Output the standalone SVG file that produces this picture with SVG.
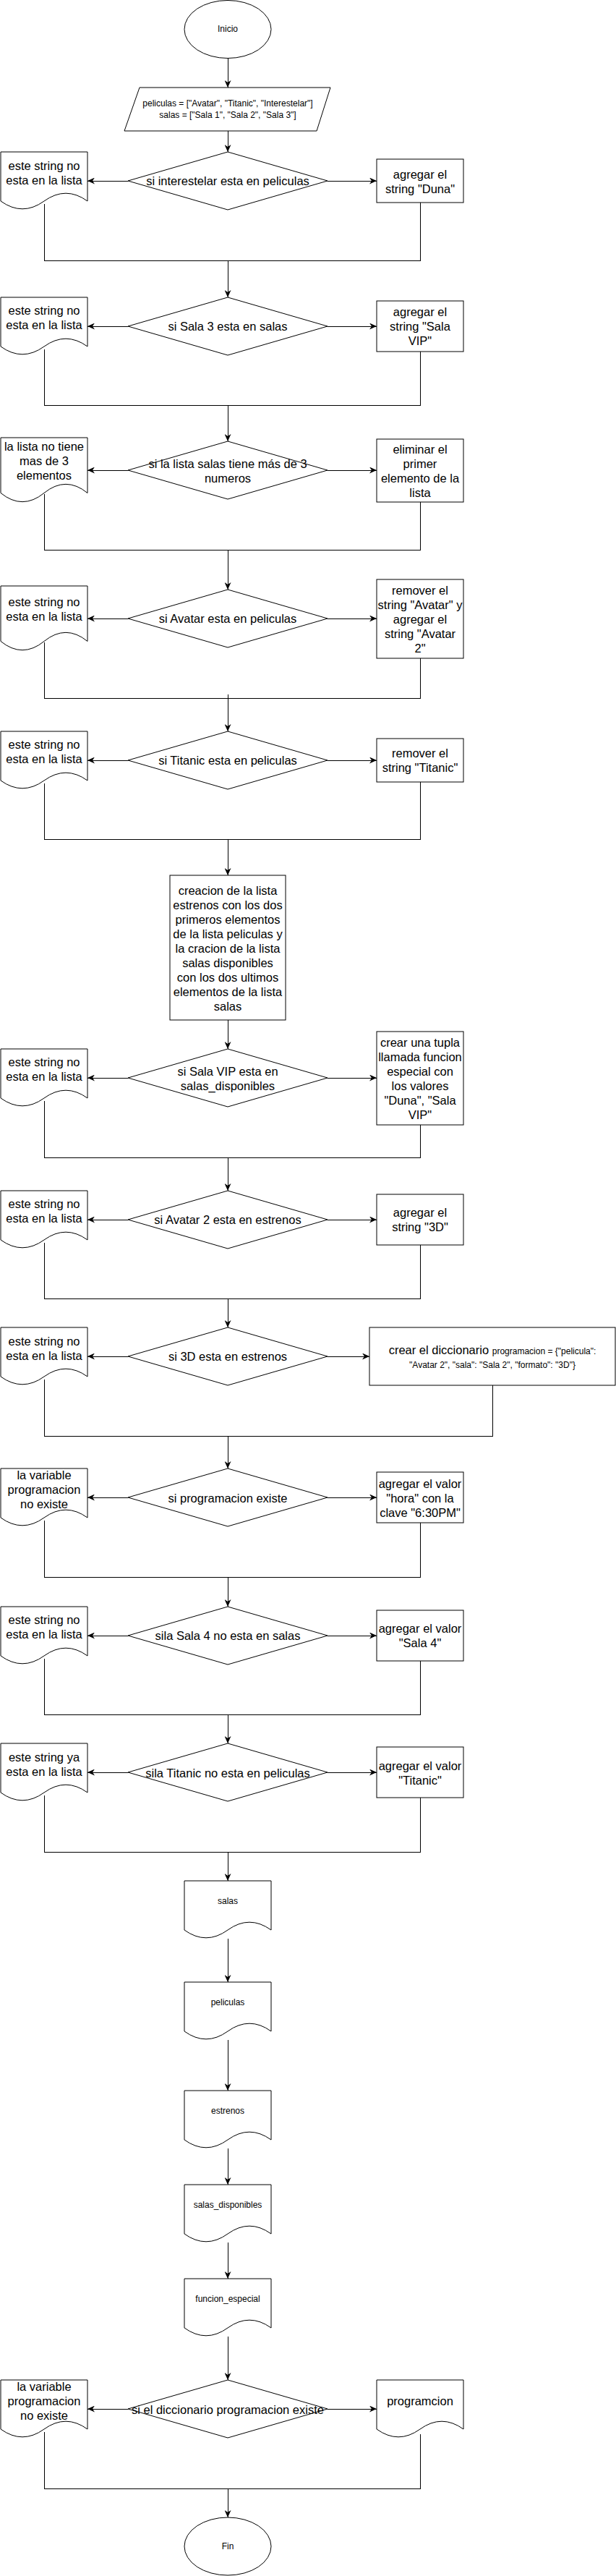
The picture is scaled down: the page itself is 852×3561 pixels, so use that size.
<svg xmlns="http://www.w3.org/2000/svg" width="852" height="3561" viewBox="0 0 852 3561">
<style>
.s{fill:#fff;stroke:#000;stroke-width:1}
.c{fill:none;stroke:#000;stroke-width:1;shape-rendering:crispEdges}
.a{marker-end:url(#arr)}
text{font-family:"Liberation Sans",Arial,Helvetica,sans-serif;font-size:16.5px;text-anchor:middle;fill:#000}
.sm{font-size:12px}
</style>
<defs>
<marker id="arr" markerUnits="userSpaceOnUse" viewBox="0 0 10 9" refX="10" refY="4.5" markerWidth="10" markerHeight="9" orient="auto">
<path d="M0 0 L10 4.5 L0 9 L3 4.5 Z" fill="#000"/>
</marker>
</defs>
<rect width="852" height="3561" fill="#fff"/>
<g id="connectors">
<path class="c a" d="M315 80 V121"/>
<path class="c a" d="M315 181 V210"/>
<path class="c a" d="M177 250 H121"/>
<path class="c a" d="M453 250 H521"/>
<path class="c a" d="M61 282 V360 H315 V411"/>
<path class="c" d="M581 280 V360 H315"/>
<path class="c a" d="M177 451 H121"/>
<path class="c a" d="M453 451 H521"/>
<path class="c a" d="M61 483 V560 H315 V610"/>
<path class="c" d="M581 486 V560 H315"/>
<path class="c a" d="M177 650 H121"/>
<path class="c a" d="M453 650 H521"/>
<path class="c a" d="M61 683 V760 H315 V815"/>
<path class="c" d="M581 694 V760 H315"/>
<path class="c a" d="M177 855 H121"/>
<path class="c a" d="M453 855 H521"/>
<path class="c a" d="M61 888 V965 H315 V1011"/>
<path class="c" d="M581 910 V965 H315 V960"/>
<path class="c a" d="M177 1051 H121"/>
<path class="c a" d="M453 1051 H521"/>
<path class="c a" d="M61 1083 V1160 H315 V1210"/>
<path class="c" d="M581 1081 V1160 H315"/>
<path class="c a" d="M315 1410 V1450"/>
<path class="c a" d="M177 1490 H121"/>
<path class="c a" d="M453 1490 H521"/>
<path class="c a" d="M61 1522 V1600 H315 V1646"/>
<path class="c" d="M581 1555 V1600 H315"/>
<path class="c a" d="M177 1686 H121"/>
<path class="c a" d="M453 1686 H521"/>
<path class="c a" d="M61 1718 V1795 H315 V1835"/>
<path class="c" d="M581 1721 V1795 H315"/>
<path class="c a" d="M177 1875 H121"/>
<path class="c a" d="M453 1875 H511"/>
<path class="c a" d="M61 1907 V1985 H315 V2030"/>
<path class="c" d="M681 1915 V1985 H315"/>
<path class="c a" d="M177 2070 H121"/>
<path class="c a" d="M453 2070 H521"/>
<path class="c a" d="M61 2102 V2180 H315 V2221"/>
<path class="c" d="M581 2105 V2180 H315"/>
<path class="c a" d="M177 2261 H121"/>
<path class="c a" d="M453 2261 H521"/>
<path class="c a" d="M61 2293 V2370 H315 V2410"/>
<path class="c" d="M581 2296 V2370 H315"/>
<path class="c a" d="M177 2450 H121"/>
<path class="c a" d="M453 2450 H521"/>
<path class="c a" d="M61 2482 V2560 H315 V2600"/>
<path class="c" d="M581 2485 V2560 H315"/>
<path class="c a" d="M315 2680 V2740"/>
<path class="c a" d="M315 2820 V2890"/>
<path class="c a" d="M315 2970 V3020"/>
<path class="c a" d="M315 3100 V3150"/>
<path class="c a" d="M315 3230 V3290"/>
<path class="c a" d="M177 3330 H121"/>
<path class="c a" d="M453 3330 H521"/>
<path class="c a" d="M61 3362 V3440 H315 V3480"/>
<path class="c" d="M581 3365 V3440 H315"/>
</g>

<g id="inicio"><ellipse class="s" cx="315" cy="40.5" rx="60" ry="40"/><text class="sm" x="315" y="44">Inicio</text></g>
<g id="datos"><polygon class="s" points="193,121 457,121 438,181 172,181"/>
<text class="sm" x="315" y="147">peliculas = ["Avatar", "Titanic", "Interestelar"]</text>
<text class="sm" x="315" y="163">salas = ["Sala 1", "Sala 2", "Sala 3"]</text></g>

<g id="dec1"><polygon class="s" points="315,210 453,250 315,290 177,250"/><text x="315" y="256">si interestelar esta en peliculas</text></g>
<g id="no1"><path class="s" d="M1 210 L121 210 L121 278 Q91 256.4 61 278 Q31 299.6 1 278 Z"/><text x="61" y="235">este string no</text><text x="61" y="255">esta en la lista</text></g>
<g id="si1"><rect class="s" x="521" y="220" width="120" height="60"/><text x="581" y="247">agregar el</text><text x="581" y="267">string "Duna"</text></g>

<g id="dec2"><polygon class="s" points="315,411 453,451 315,491 177,451"/><text x="315" y="457">si Sala 3 esta en salas</text></g>
<g id="no2"><path class="s" d="M1 411 L121 411 L121 479 Q91 457.4 61 479 Q31 500.6 1 479 Z"/><text x="61" y="435">este string no</text><text x="61" y="455">esta en la lista</text></g>
<g id="si2"><rect class="s" x="521" y="416" width="120" height="70"/><text x="581" y="437">agregar el</text><text x="581" y="457">string "Sala</text><text x="581" y="477">VIP"</text></g>

<g id="dec3"><polygon class="s" points="315,610 453,650 315,690 177,650"/><text x="315" y="647">si la lista salas tiene más de 3</text><text x="315" y="667">numeros</text></g>
<g id="no3"><path class="s" d="M1 605 L121 605 L121 681.5 Q91 657.2 61 681.5 Q31 705.8 1 681.5 Z"/><text x="61" y="623">la lista no tiene</text><text x="61" y="643">mas de 3</text><text x="61" y="663">elementos</text></g>
<g id="si3"><rect class="s" x="521" y="607" width="120" height="87"/><text x="581" y="627">eliminar el</text><text x="581" y="647">primer</text><text x="581" y="667">elemento de la</text><text x="581" y="687">lista</text></g>

<g id="dec4"><polygon class="s" points="315,815 453,855 315,895 177,855"/><text x="315" y="861">si Avatar esta en peliculas</text></g>
<g id="no4"><path class="s" d="M1 810 L121 810 L121 886.5 Q91 862.2 61 886.5 Q31 910.8 1 886.5 Z"/><text x="61" y="838">este string no</text><text x="61" y="858">esta en la lista</text></g>
<g id="si4"><rect class="s" x="521" y="801" width="120" height="109"/><text x="581" y="822">remover el</text><text x="581" y="842">string "Avatar" y</text><text x="581" y="862">agregar el</text><text x="581" y="882">string "Avatar</text><text x="581" y="902">2"</text></g>

<g id="dec5"><polygon class="s" points="315,1011 453,1051 315,1091 177,1051"/><text x="315" y="1057">si Titanic esta en peliculas</text></g>
<g id="no5"><path class="s" d="M1 1011 L121 1011 L121 1079 Q91 1057.4 61 1079 Q31 1100.6 1 1079 Z"/><text x="61" y="1035">este string no</text><text x="61" y="1055">esta en la lista</text></g>
<g id="si5"><rect class="s" x="521" y="1021" width="120" height="60"/><text x="581" y="1047">remover el</text><text x="581" y="1067">string "Titanic"</text></g>

<g id="creacion"><rect class="s" x="235" y="1210" width="160" height="200"/>
<text x="315" y="1237">creacion de la lista</text>
<text x="315" y="1257">estrenos con los dos</text>
<text x="315" y="1277">primeros elementos</text>
<text x="315" y="1297">de la lista peliculas y</text>
<text x="315" y="1317">la cracion de la lista</text>
<text x="315" y="1337">salas disponibles</text>
<text x="315" y="1357">con los dos ultimos</text>
<text x="315" y="1377">elementos de la lista</text>
<text x="315" y="1397">salas</text></g>

<g id="dec6"><polygon class="s" points="315,1450 453,1490 315,1530 177,1490"/><text x="315" y="1487">si Sala VIP esta en</text><text x="315" y="1507">salas_disponibles</text></g>
<g id="no6"><path class="s" d="M1 1450 L121 1450 L121 1518 Q91 1496.4 61 1518 Q31 1539.6 1 1518 Z"/><text x="61" y="1474">este string no</text><text x="61" y="1494">esta en la lista</text></g>
<g id="si6"><rect class="s" x="521" y="1426" width="120" height="129"/><text x="581" y="1447">crear una tupla</text><text x="581" y="1467">llamada funcion</text><text x="581" y="1487">especial con</text><text x="581" y="1507">los valores</text><text x="581" y="1527">"Duna", "Sala</text><text x="581" y="1547">VIP"</text></g>

<g id="dec7"><polygon class="s" points="315,1646 453,1686 315,1726 177,1686"/><text x="315" y="1692">si Avatar 2 esta en estrenos</text></g>
<g id="no7"><path class="s" d="M1 1646 L121 1646 L121 1714 Q91 1692.4 61 1714 Q31 1735.6 1 1714 Z"/><text x="61" y="1670">este string no</text><text x="61" y="1690">esta en la lista</text></g>
<g id="si7"><rect class="s" x="521" y="1651" width="120" height="70"/><text x="581" y="1682">agregar el</text><text x="581" y="1702">string "3D"</text></g>

<g id="dec8"><polygon class="s" points="315,1835 453,1875 315,1915 177,1875"/><text x="315" y="1881">si 3D esta en estrenos</text></g>
<g id="no8"><path class="s" d="M1 1835 L121 1835 L121 1903 Q91 1881.4 61 1903 Q31 1924.6 1 1903 Z"/><text x="61" y="1860">este string no</text><text x="61" y="1880">esta en la lista</text></g>
<g id="si8"><rect class="s" x="511" y="1835" width="340" height="80"/><text x="681" y="1872">crear el diccionario <tspan class="sm">programacion = {"pelicula":</tspan></text><text class="sm" x="681" y="1891">"Avatar 2", "sala": "Sala 2", "formato": "3D"}</text></g>

<g id="dec9"><polygon class="s" points="315,2030 453,2070 315,2110 177,2070"/><text x="315" y="2077">si programacion existe</text></g>
<g id="no9"><path class="s" d="M1 2030 L121 2030 L121 2098 Q91 2076.4 61 2098 Q31 2119.6 1 2098 Z"/><text x="61" y="2045">la variable</text><text x="61" y="2065">programacion</text><text x="61" y="2085">no existe</text></g>
<g id="si9"><rect class="s" x="521" y="2035" width="120" height="70"/><text x="581" y="2057">agregar el valor</text><text x="581" y="2077">"hora" con la</text><text x="581" y="2097">clave "6:30PM"</text></g>

<g id="dec10"><polygon class="s" points="315,2221 453,2261 315,2301 177,2261"/><text x="315" y="2267">sila Sala 4 no esta en salas</text></g>
<g id="no10"><path class="s" d="M1 2221 L121 2221 L121 2289 Q91 2267.4 61 2289 Q31 2310.6 1 2289 Z"/><text x="61" y="2245">este string no</text><text x="61" y="2265">esta en la lista</text></g>
<g id="si10"><rect class="s" x="521" y="2226" width="120" height="70"/><text x="581" y="2257">agregar el valor</text><text x="581" y="2277">"Sala 4"</text></g>

<g id="dec11"><polygon class="s" points="315,2410 453,2450 315,2490 177,2450"/><text x="315" y="2457">sila Titanic no esta en peliculas</text></g>
<g id="no11"><path class="s" d="M1 2410 L121 2410 L121 2478 Q91 2456.4 61 2478 Q31 2499.6 1 2478 Z"/><text x="61" y="2435">este string ya</text><text x="61" y="2455">esta en la lista</text></g>
<g id="si11"><rect class="s" x="521" y="2415" width="120" height="70"/><text x="581" y="2447">agregar el valor</text><text x="581" y="2467">"Titanic"</text></g>

<g id="out_salas"><path class="s" d="M255 2600 L375 2600 L375 2668 Q345 2646.4 315 2668 Q285 2689.6 255 2668 Z"/><text class="sm" x="315" y="2632">salas</text></g>
<g id="out_peliculas"><path class="s" d="M255 2740 L375 2740 L375 2808 Q345 2786.4 315 2808 Q285 2829.6 255 2808 Z"/><text class="sm" x="315" y="2772">peliculas</text></g>
<g id="out_estrenos"><path class="s" d="M255 2890 L375 2890 L375 2958 Q345 2936.4 315 2958 Q285 2979.6 255 2958 Z"/><text class="sm" x="315" y="2922">estrenos</text></g>
<g id="out_salas_disponibles"><path class="s" d="M255 3020 L375 3020 L375 3088 Q345 3066.4 315 3088 Q285 3109.6 255 3088 Z"/><text class="sm" x="315" y="3052">salas_disponibles</text></g>
<g id="out_funcion_especial"><path class="s" d="M255 3150 L375 3150 L375 3218 Q345 3196.4 315 3218 Q285 3239.6 255 3218 Z"/><text class="sm" x="315" y="3182">funcion_especial</text></g>

<g id="dec12"><polygon class="s" points="315,3290 453,3330 315,3370 177,3330"/><text x="315" y="3337">si el diccionario programacion existe</text></g>
<g id="no12"><path class="s" d="M1 3290 L121 3290 L121 3358 Q91 3336.4 61 3358 Q31 3379.6 1 3358 Z"/><text x="61" y="3305">la variable</text><text x="61" y="3325">programacion</text><text x="61" y="3345">no existe</text></g>
<g id="si12"><path class="s" d="M521 3290 L641 3290 L641 3358 Q611 3336.4 581 3358 Q551 3379.6 521 3358 Z"/><text x="581" y="3325">programcion</text></g>

<g id="fin"><ellipse class="s" cx="315" cy="3520" rx="60" ry="40"/><text class="sm" x="315" y="3524">Fin</text></g>
</svg>
